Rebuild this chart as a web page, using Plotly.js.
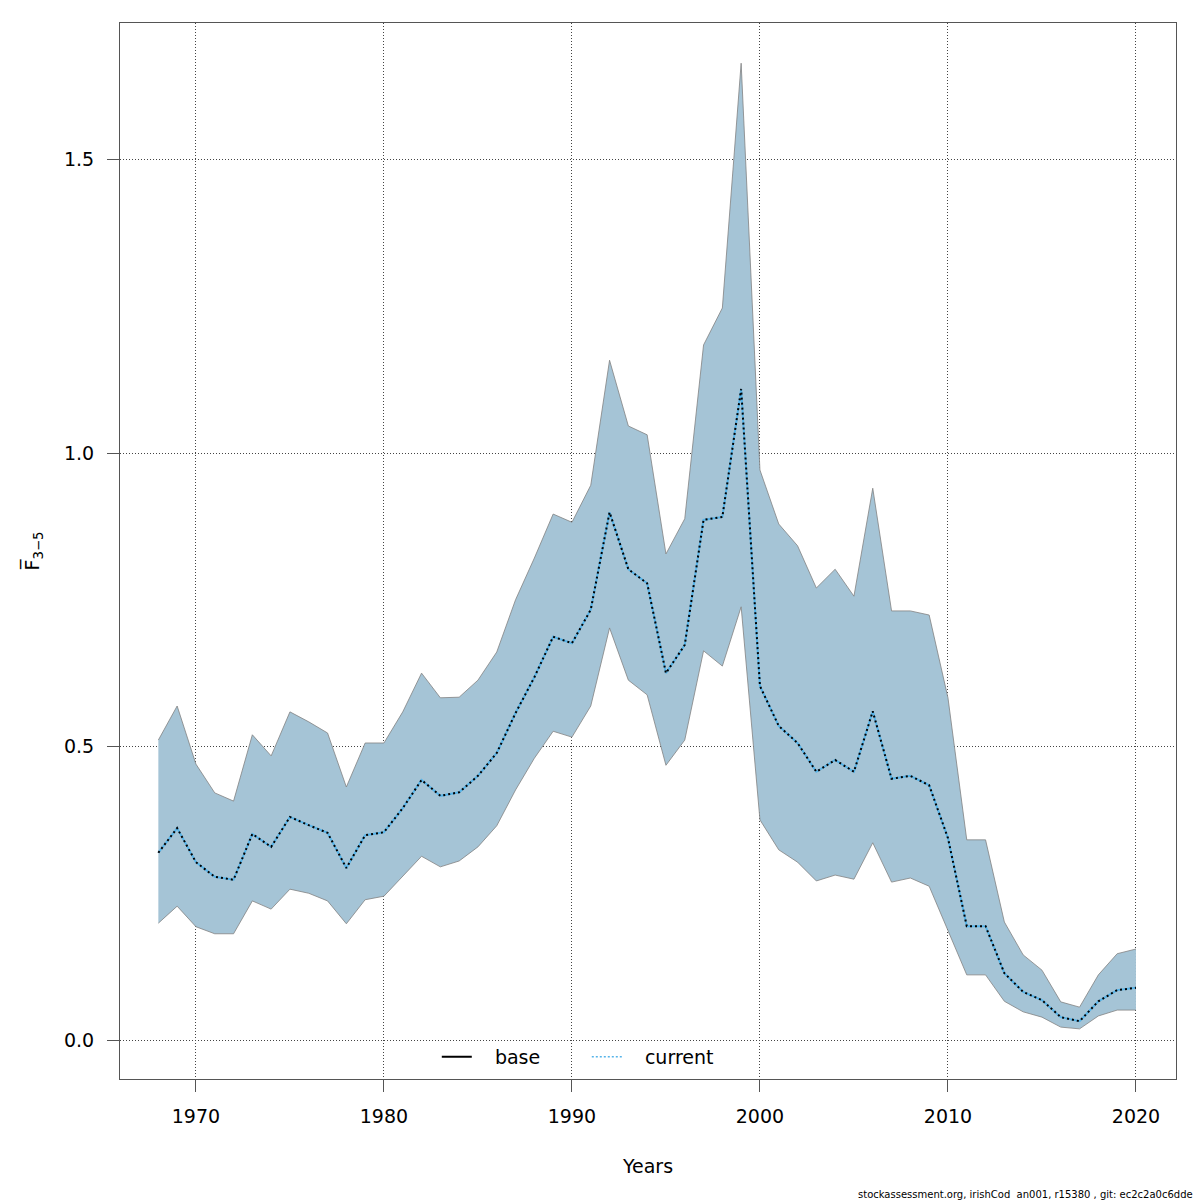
<!DOCTYPE html>
<html>
<head>
<meta charset="utf-8">
<script src="https://cdn.plot.ly/plotly-3.0.1.min.js"></script>
<style>html,body{margin:0;padding:0;background:#fff;}#chart{width:1200px;height:1200px;}</style>
</head>
<body>
<div id="chart"></div>
<script>
const years = [1968,1969,1970,1971,1972,1973,1974,1975,1976,1977,1978,1979,1980,1981,1982,1983,1984,1985,1986,1987,1988,1989,1990,1991,1992,1993,1994,1995,1996,1997,1998,1999,2000,2001,2002,2003,2004,2005,2006,2007,2008,2009,2010,2011,2012,2013,2014,2015,2016,2017,2018,2019,2020];
const fbar = [0.319,0.361,0.303,0.278,0.273,0.351,0.329,0.380,0.366,0.353,0.293,0.349,0.354,0.395,0.443,0.416,0.422,0.450,0.489,0.557,0.618,0.687,0.676,0.733,0.899,0.802,0.778,0.625,0.673,0.886,0.891,1.109,0.603,0.535,0.506,0.457,0.477,0.457,0.560,0.445,0.450,0.434,0.344,0.194,0.194,0.114,0.082,0.068,0.039,0.032,0.066,0.085,0.089];
const upper = [0.511,0.569,0.470,0.421,0.407,0.520,0.484,0.559,0.542,0.523,0.431,0.506,0.506,0.559,0.625,0.583,0.584,0.613,0.661,0.750,0.821,0.896,0.882,0.945,1.158,1.046,1.031,0.828,0.888,1.184,1.247,1.664,0.971,0.879,0.842,0.770,0.802,0.756,0.940,0.731,0.731,0.724,0.583,0.341,0.341,0.201,0.145,0.119,0.065,0.056,0.111,0.147,0.155];
const lower = [0.199,0.228,0.193,0.181,0.181,0.237,0.223,0.257,0.250,0.237,0.198,0.239,0.245,0.279,0.313,0.295,0.305,0.329,0.365,0.426,0.480,0.526,0.516,0.569,0.702,0.613,0.588,0.468,0.511,0.663,0.637,0.738,0.375,0.324,0.303,0.271,0.281,0.274,0.336,0.269,0.276,0.262,0.187,0.111,0.111,0.066,0.048,0.039,0.022,0.019,0.041,0.051,0.051];
const xTicks = [1970,1980,1990,2000,2010,2020];
const yTicks = [0,0.5,1.0,1.5];
const legendNames = ["base","current"];

const fillCol = "rgb(165,196,214)";
const pad = "\u00a0\u00a0\u00a0";
const traces = [
  {x: years, y: lower, type: "scatter", mode: "lines", line: {color: "rgba(130,130,130,0.8)", width: 1}, showlegend: false, hoverinfo: "skip"},
  {x: years, y: upper, type: "scatter", mode: "lines", fill: "tonexty", fillcolor: fillCol, line: {color: "rgba(130,130,130,0.8)", width: 1}, showlegend: false, hoverinfo: "skip"},
  {x: years, y: fbar, type: "scatter", mode: "lines", line: {color: "#56B4E9", width: 2}, showlegend: false},
  {x: years, y: fbar, type: "scatter", mode: "lines", line: {color: "black", width: 2, dash: "2px,3px"}, showlegend: false},
  {x: [null], y: [null], type: "scatter", mode: "lines", name: pad + legendNames[0], line: {color: "black", width: 2}},
  {x: [null], y: [null], type: "scatter", mode: "lines", name: pad + legendNames[1], line: {color: "#56B4E9", width: 1.5, dash: "2px,2px"}}
];

const layout = {
  width: 1200, height: 1200,
  paper_bgcolor: "#fff", plot_bgcolor: "#fff",
  margin: {l: 120, r: 24, t: 23, b: 121},
  font: {family: "DejaVu Sans", size: 19, color: "black"},
  showlegend: true,
  legend: {orientation: "h", traceorder: "normal", x: 0.300, xanchor: "left", y: 0.003, yanchor: "bottom", bgcolor: "rgba(0,0,0,0)", font: {size: 19}, entrywidth: 105, entrywidthmode: "pixels"},
  xaxis: {
    range: [1965.96, 2022.13], tickvals: xTicks, ticktext: xTicks.map(String),
    showgrid: true, gridcolor: "#444", griddash: "1px,2px", gridwidth: 1,
    zeroline: false, showline: true, mirror: true, linecolor: "#555", linewidth: 1,
    ticks: "outside", ticklen: 12, tickcolor: "#555", ticklabelstandoff: 8,
    title: {text: "Years", font: {size: 19}, standoff: 33}
  },
  yaxis: {
    range: [-0.0664, 1.7325], tickvals: yTicks, ticktext: yTicks.map(v => v.toFixed(1)),
    showgrid: true, gridcolor: "#444", griddash: "1px,2px", gridwidth: 1,
    zeroline: false, showline: true, mirror: true, linecolor: "#555", linewidth: 1,
    ticks: "outside", ticklen: 12, tickcolor: "#555", ticklabelstandoff: 9,
    title: {text: "F\u0305<sub>3\u22125</sub>", font: {size: 19}, standoff: 19}
  },
  annotations: [
    {xref: "paper", yref: "paper", x: 1.018, y: -0.109, xanchor: "right", yanchor: "middle", showarrow: false,
     text: "stockassessment.org, irishCod  an001, r15380 , git: ec2c2a0c6dde", font: {size: 10, family: "DejaVu Sans"}}
  ]
};
Plotly.newPlot("chart", traces, layout, {displayModeBar: false, staticPlot: true});
</script>
</body>
</html>
